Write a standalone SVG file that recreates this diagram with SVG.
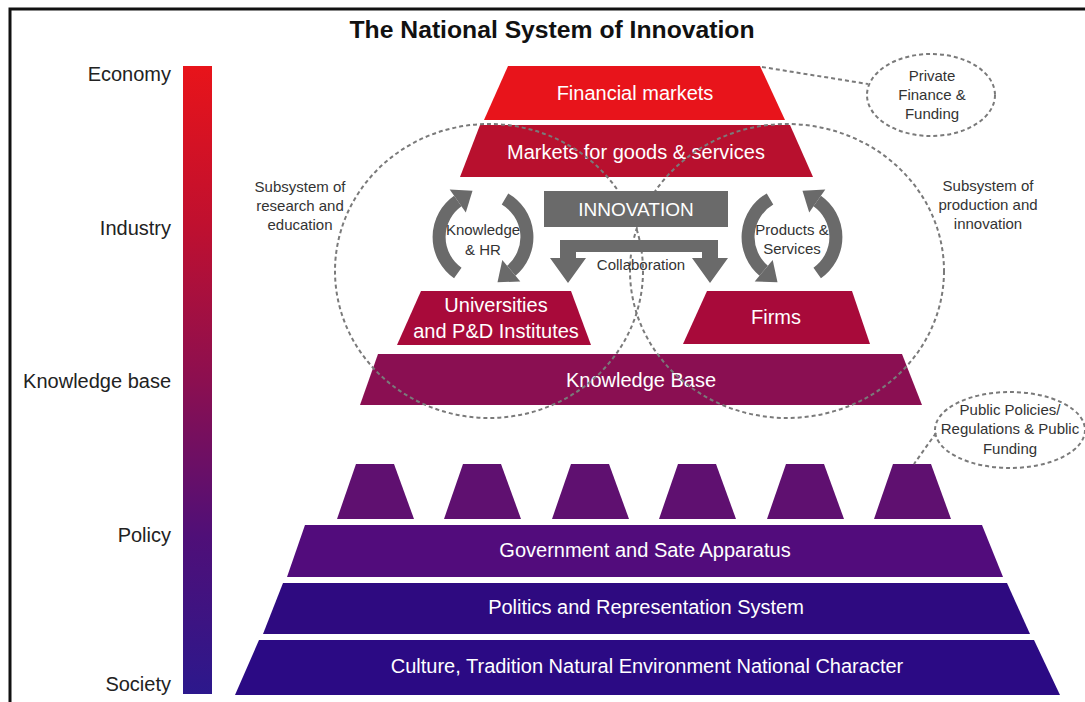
<svg xmlns="http://www.w3.org/2000/svg" width="1085" height="702" viewBox="0 0 1085 702">
<defs>
<linearGradient id="bar" x1="0" y1="0" x2="0" y2="1">
<stop offset="0" stop-color="#e8141a"/>
<stop offset="0.25" stop-color="#c0102f"/>
<stop offset="0.5" stop-color="#8c0f50"/>
<stop offset="0.75" stop-color="#4f0f78"/>
<stop offset="1" stop-color="#2c188c"/>
</linearGradient>
</defs>
<style>
text{font-family:"Liberation Sans",Arial,sans-serif}
.w{fill:#fff;text-anchor:middle;font-size:20px}
.lab{fill:#222;text-anchor:end;font-size:20px}
.sm{fill:#333;text-anchor:middle;font-size:15px}
.dash{fill:none;stroke:#7a7a7a;stroke-width:2;stroke-dasharray:4 3}
.gr{fill:#6a6a6a}
.arc{fill:none;stroke:#6a6a6a;stroke-width:13}
</style>
<rect width="1085" height="702" fill="#fff"/>
<path d="M10,702 V9 H1085" fill="none" stroke="#111" stroke-width="3"/>
<text x="552" y="38" text-anchor="middle" font-size="23" font-weight="bold" fill="#111" textLength="405" lengthAdjust="spacingAndGlyphs">The National System of Innovation</text>

<g id="scale">
<rect x="183" y="66" width="29" height="628" fill="url(#bar)"/>
<text class="lab" x="171" y="81">Economy</text>
<text class="lab" x="171" y="235">Industry</text>
<text class="lab" x="171" y="388">Knowledge base</text>
<text class="lab" x="171" y="542">Policy</text>
<text class="lab" x="171" y="691">Society</text>
</g>

<g id="financial">
<polygon points="508,66 760,66 785,120 484,120" fill="#e8141b"/>
<text class="w" x="635" y="100">Financial markets</text>
</g>
<g id="markets">
<polygon points="480,125 790,125 813,177 460,177" fill="#b8102e"/>
<text class="w" x="636" y="159">Markets for goods &amp; services</text>
</g>
<g id="universities">
<polygon points="421,291 571,291 591,345 397,345" fill="#a80a3a"/>
<text class="w" x="496" y="312">Universities</text>
<text class="w" x="496" y="338">and P&amp;D Institutes</text>
</g>
<g id="firms">
<polygon points="707,291 852,291 870,344 683,344" fill="#a80a3a"/>
<text class="w" x="776" y="324">Firms</text>
</g>
<g id="knowledge">
<polygon points="378,354 902,354 922,405 360,405" fill="#8a0f52"/>
<text class="w" x="641" y="387">Knowledge Base</text>
</g>

<g id="pillars" fill="#5f1070">
<polygon points="356,464 394,464 414,519 337,519"/>
<polygon points="463,464 501,464 521,519 444,519"/>
<polygon points="571,464 609,464 629,519 552,519"/>
<polygon points="678,464 716,464 736,519 659,519"/>
<polygon points="786,464 824,464 844,519 767,519"/>
<polygon points="893,464 931,464 951,519 874,519"/>
</g>
<g id="government">
<polygon points="305,525 982,525 1003,577 287,577" fill="#520c7c"/>
<text class="w" x="645" y="557">Government and Sate Apparatus</text>
</g>
<g id="politics">
<polygon points="283,583 1007,583 1030,634 263,634" fill="#2e0a80"/>
<text class="w" x="646" y="614">Politics and Representation System</text>
</g>
<g id="culture">
<polygon points="259,640 1034,640 1060,695 235,695" fill="#2b0a84"/>
<text class="w" x="647" y="673">Culture, Tradition Natural Environment National Character</text>
</g>

<g id="subsystem-research">
<ellipse class="dash" cx="489" cy="271" rx="154" ry="147"/>
<text class="sm" x="300" y="192">Subsystem of</text>
<text class="sm" x="300" y="211">research and</text>
<text class="sm" x="300" y="230">education</text>
</g>
<g id="subsystem-production">
<ellipse class="dash" cx="787" cy="271" rx="157" ry="147"/>
<text class="sm" x="988" y="191">Subsystem of</text>
<text class="sm" x="988" y="210">production and</text>
<text class="sm" x="988" y="229">innovation</text>
</g>

<g id="innovation">
<rect x="544" y="191" width="184" height="36" fill="#6a6a6a"/>
<text x="636" y="216" text-anchor="middle" font-size="19" fill="#fff">INNOVATION</text>
</g>
<g id="collaboration">
<path class="gr" d="M560,240 H718 V258 H728 L710,283 L692,258 H702 V252 H576 V258 H586 L568,283 L550,258 H560 Z"/>
<text class="sm" x="641" y="270">Collaboration</text>
</g>

<g id="knowledge-hr">
<path class="arc" d="M457.8,273 A44,44 0 0 1 457.8,201"/>
<polygon class="gr" points="465.8,212.4 449.7,189.5 472.5,190.7"/>
<path class="arc" d="M505,199 A44,44 0 0 1 511.3,270.7"/>
<polygon class="gr" points="502.3,260 520.3,281.4 497.5,282.3"/>
<text class="sm" x="483" y="235">Knowledge</text>
<text class="sm" x="483" y="255">&amp; HR</text>
</g>
<g id="products-services">
<path class="arc" d="M770,199 A44,44 0 0 0 763.7,270.7"/>
<polygon class="gr" points="772.7,260 754.7,281.4 777.5,282.3"/>
<path class="arc" d="M817.2,273 A44,44 0 0 0 817.2,201"/>
<polygon class="gr" points="809.2,212.4 825.3,189.5 802.5,190.7"/>
<text class="sm" x="792" y="235">Products &amp;</text>
<text class="sm" x="792" y="254">Services</text>
</g>

<g id="private-finance">
<ellipse class="dash" cx="931" cy="95" rx="64" ry="41"/>
<text class="sm" x="932" y="81">Private</text>
<text class="sm" x="932" y="100">Finance &amp;</text>
<text class="sm" x="932" y="119">Funding</text>
</g>
<g id="public-policies">
<ellipse class="dash" cx="1010" cy="430" rx="75" ry="38"/>
<text class="sm" x="1010" y="415">Public Policies/</text>
<text class="sm" x="1010" y="434">Regulations &amp; Public</text>
<text class="sm" x="1010" y="454">Funding</text>
</g>

<g id="connectors">
<path class="dash" d="M762,67 L868,84"/>
<path class="dash" d="M936,433 L914,464"/>
</g>
</svg>
